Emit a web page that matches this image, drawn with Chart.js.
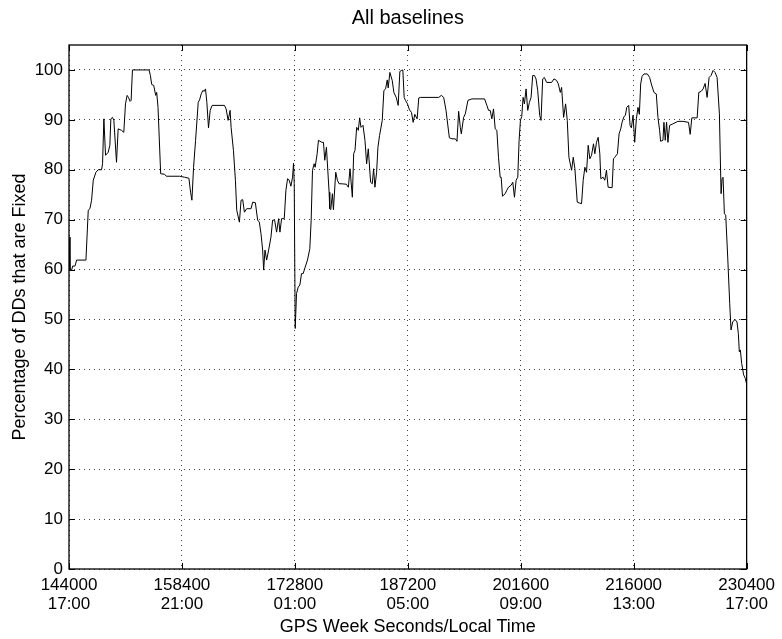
<!DOCTYPE html>
<html>
<head>
<meta charset="utf-8">
<title>All baselines</title>
<script src="https://cdn.jsdelivr.net/npm/chart.js@4/dist/chart.umd.min.js"></script>
<style>
    html, body { margin: 0; padding: 0; background: #fff; }
    #wrap { width: 782px; height: 639px; position: relative; }
</style>
</head>
<body>
<div id="wrap"><canvas id="dd-chart"></canvas></div>
<script>
// GPS week seconds of each sample
const gpsSec = [
    144000, 144127, 144339, 144466, 144762, 144975, 146160, 146456, 146668, 146880,
    147092, 147431, 147727, 148151, 148278, 148447, 148659, 148998, 149209, 149337,
    149548, 149718, 150057, 150268, 150692, 150988, 151200, 151412, 151581, 151793,
    151920, 152090, 154207, 154377, 154546, 154800, 155054, 155181, 155350, 155690,
    156198, 156410, 158104, 158739, 159289, 159501, 159671, 159883, 160137, 160476,
    160645, 160857, 161068, 161238, 161407, 161576, 161788, 162000, 162255, 163821,
    164034, 164287, 164542, 164669, 164965, 165219, 165388, 165727, 165939, 166150,
    166363, 166659, 167210, 167421, 167760, 168056, 168268, 168480, 168692, 168819,
    168989, 169200, 169454, 169751, 169962, 170216, 170471, 170725, 170894, 171106,
    171445, 171657, 171868, 172080, 172292, 172503, 172630, 172716, 172843, 173012,
    173224, 173436, 173647, 173859, 174113, 174409, 174706, 174876, 175045, 175257,
    175384, 175638, 175807, 176231, 176443, 176612, 176823, 177163, 177248, 177375,
    177586, 177713, 178010, 178221, 178433, 178687, 179365, 179619, 179831, 180128,
    180297, 180466, 180678, 180889, 181059, 181229, 181483, 181737, 181949, 182160,
    182457, 182668, 182838, 183007, 183219, 183389, 183600, 183939, 184151, 184363,
    184574, 184701, 184913, 185210, 185422, 185718, 185972, 186184, 186396, 186565,
    186735, 186904, 187158, 187413, 187667, 187878, 188090, 188386, 188597, 188810,
    191139, 191478, 191775, 192071, 192495, 192833, 193257, 193468, 193680, 193893,
    194019, 194316, 194528, 194866, 195374, 196984, 197280, 197492, 197704, 197916,
    198128, 198340, 198551, 198763, 198975, 199102, 199271, 199610, 199821, 200033,
    200372, 200584, 200796, 201008, 201219, 201389, 201559, 201727, 201897, 202066,
    202278, 202490, 202702, 202914, 203125, 203337, 203549, 203761, 204015, 204184,
    204396, 204608, 204904, 205539, 205836, 206174, 206386, 206640, 206810, 207064,
    207318, 207530, 207741, 208081, 208292, 208504, 208801, 209140, 209351, 209563,
    209775, 209986, 210198, 210410, 210622, 210876, 211046, 211257, 211469, 211681,
    211808, 212104, 212316, 212528, 212739, 213248, 213417, 213587, 213926, 214137,
    214349, 214518, 214772, 214942, 215111, 215365, 215535, 215704, 215916, 216128,
    216339, 216551, 216721, 216890, 217060, 217314, 217737, 218034, 218245, 218584,
    218880, 219092, 219304, 219431, 219728, 219855, 220024, 220193, 220363, 220575,
    220998, 221634, 222269, 222989, 223201, 223413, 224090, 224302, 224599, 224853,
    225107, 225361, 225615, 225869, 226123, 226377, 226632, 226928, 227140, 227267,
    227394, 227563, 227733, 227987, 228241, 228410, 228622, 228919, 229173, 229342,
    229469, 229596, 229766, 230020, 230232, 230400
];

// percentage of DDs fixed at each sample
const pctFixed = [
    66.5, 59.9, 59.9, 60.7, 60.7, 61.9, 61.9, 71.9, 72.2, 73.9,
    77.9, 79.5, 80.0, 80.0, 81.2, 90.2, 82.9, 83.5, 84.9, 90.2,
    90.5, 89.9, 81.5, 88.2, 87.9, 87.5, 93.2, 94.9, 94.5, 93.7,
    93.9, 100.0, 100.0, 98.9, 97.1, 96.9, 94.9, 95.5, 92.5, 79.2,
    79.1, 78.7, 78.7, 78.5, 78.3, 75.5, 73.9, 80.5, 85.9, 93.5,
    94.0, 95.2, 95.9, 95.7, 96.2, 93.5, 88.4, 91.9, 92.9, 92.9,
    92.2, 89.9, 91.9, 88.5, 83.9, 77.9, 71.9, 69.5, 73.9, 74.0,
    71.5, 72.2, 72.2, 73.5, 73.4, 69.9, 69.5, 67.2, 63.9, 59.9,
    63.9, 61.9, 63.9, 66.5, 69.9, 69.9, 67.5, 70.2, 67.5, 70.2,
    70.2, 75.9, 78.2, 77.9, 76.7, 78.5, 81.3, 77.2, 48.2, 55.2,
    56.5, 56.9, 59.2, 59.2, 60.5, 61.9, 64.2, 69.9, 79.9, 81.2,
    80.5, 83.2, 85.9, 85.5, 85.5, 81.9, 84.5, 75.5, 72.2, 72.0,
    75.2, 72.0, 79.5, 77.9, 77.2, 77.2, 77.1, 76.5, 80.2, 74.5,
    83.2, 83.9, 88.5, 87.9, 90.4, 88.5, 88.9, 85.9, 81.2, 84.2,
    77.5, 77.2, 80.2, 76.5, 79.5, 84.5, 86.9, 89.9, 95.9, 96.2,
    98.0, 96.4, 99.5, 97.9, 95.5, 94.5, 92.9, 99.7, 99.9, 100.0,
    94.5, 93.9, 93.2, 92.0, 91.5, 89.5, 91.1, 90.2, 94.4, 94.5,
    94.5, 94.9, 94.5, 91.9, 86.4, 86.2, 86.2, 85.7, 91.7, 88.5,
    87.2, 90.5, 91.2, 93.9, 94.2, 94.2, 92.9, 91.9, 91.9, 90.2,
    92.2, 88.2, 87.9, 82.5, 78.5, 78.5, 74.7, 75.2, 75.9, 76.5,
    76.9, 77.5, 74.5, 77.9, 78.5, 85.9, 89.9, 90.7, 94.5, 93.2,
    96.2, 91.9, 93.5, 94.5, 98.9, 98.9, 98.2, 95.9, 90.9, 89.9,
    98.2, 98.5, 97.5, 97.5, 98.2, 97.9, 97.2, 95.5, 96.5, 90.5,
    93.2, 89.9, 82.5, 79.9, 82.5, 80.2, 73.5, 73.3, 73.2, 77.9,
    80.5, 79.5, 84.9, 82.2, 82.9, 85.2, 83.2, 85.5, 86.5, 83.2,
    78.2, 78.5, 77.9, 79.9, 76.5, 76.4, 82.2, 82.5, 83.2, 87.2,
    88.2, 89.5, 90.7, 90.9, 92.5, 92.9, 88.9, 88.4, 90.9, 85.5,
    90.2, 92.5, 91.1, 97.2, 98.7, 99.2, 99.2, 98.5, 97.2, 95.5,
    95.2, 90.5, 87.9, 85.7, 85.9, 89.5, 85.9, 89.5, 85.5, 88.9,
    89.2, 89.7, 89.7, 89.5, 87.1, 90.4, 90.4, 95.5, 95.7, 96.2,
    97.3, 94.5, 98.5, 98.9, 99.9, 99.5, 98.5, 91.2, 75.2, 78.2,
    78.5, 71.2, 70.9, 62.5, 53.2, 47.9, 49.5, 50.0, 49.5, 47.2,
    43.5, 43.9, 41.2, 38.9, 38.2, 37.0
];

// axis ticks
const xTickValues = [144000, 158400, 172800, 187200, 201600, 216000, 230400];
const xTickTimes = ['17:00', '21:00', '01:00', '05:00', '09:00', '13:00', '17:00'];
const yTickValues = [0, 10, 20, 30, 40, 50, 60, 70, 80, 90, 100];

const FONT = '"Liberation Sans", Arial, Helvetica, sans-serif';
const TICK_LEN = 6;

// matlab style box with inward tick marks on all four sides,
// and the title centred over the axes instead of the whole canvas
const boxPlugin = {
    id: 'matlabBox',
    afterLayout(chart) {
        const t = chart.titleBlock;
        if (t) {
            t.left = chart.chartArea.left;
            t.right = chart.chartArea.right;
            t.width = t.right - t.left;
        }
    },
    afterDatasetsDraw(chart) {
        const ctx = chart.ctx;
        const a = chart.chartArea;
        const xs = chart.scales.x;
        const ys = chart.scales.y;
        ctx.save();
        ctx.strokeStyle = '#000';
        ctx.lineWidth = 1;
        ctx.setLineDash([]);
        ctx.beginPath();
        xTickValues.forEach(v => {
            const px = Math.round(xs.getPixelForValue(v)) + 0.5;
            ctx.moveTo(px, a.bottom);
            ctx.lineTo(px, a.bottom - TICK_LEN);
            ctx.moveTo(px, a.top);
            ctx.lineTo(px, a.top + TICK_LEN);
        });
        yTickValues.forEach(v => {
            const py = Math.round(ys.getPixelForValue(v)) + 0.5;
            ctx.moveTo(a.left, py);
            ctx.lineTo(a.left + TICK_LEN, py);
            ctx.moveTo(a.right, py);
            ctx.lineTo(a.right - TICK_LEN, py);
        });
        ctx.stroke();
        ctx.lineWidth = 1.3;
        ctx.strokeRect(a.left, a.top, a.right - a.left, a.bottom - a.top);
        ctx.restore();
    }
};

const points = gpsSec.map((t, i) => ({ x: t, y: pctFixed[i] }));

const ctx = document.getElementById('dd-chart').getContext('2d');
new Chart(ctx, {
    type: 'line',
    data: {
        datasets: [{
            label: 'All baselines',
            data: points,
            borderColor: '#000',
            borderWidth: 1,
            pointRadius: 0,
            tension: 0,
            fill: false
        }]
    },
    options: {
        responsive: true,
        maintainAspectRatio: false,
        animation: false,
        layout: { padding: { left: 0, right: 33, top: 0, bottom: 0 } },
        plugins: {
            legend: { display: false },
            tooltip: { enabled: false },
            title: {
                display: true,
                text: 'All baselines',
                color: '#000',
                font: { family: FONT, size: 20, weight: 'normal' },
                padding: { top: 6, bottom: 15 }
            }
        },
        scales: {
            x: {
                type: 'linear',
                min: 144000,
                max: 230400,
                afterFit: scale => { scale.height = 70; },
                afterBuildTicks: scale => {
                    scale.ticks = xTickValues.map(v => ({ value: v }));
                },
                ticks: {
                    color: '#000',
                    padding: 7,
                    maxRotation: 0,
                    autoSkip: false,
                    font: { family: FONT, size: 17, lineHeight: 1.1 },
                    callback: (value) => {
                        const i = xTickValues.indexOf(value);
                        return [String(value), i >= 0 ? xTickTimes[i] : ''];
                    }
                },
                grid: { color: '#444', lineWidth: 1, drawTicks: false },
                border: { display: false, dash: [1, 4] },
                title: {
                    display: true,
                    text: 'GPS Week Seconds/Local Time',
                    color: '#000',
                    font: { family: FONT, size: 18 },
                    padding: { top: 0, bottom: 1 }
                }
            },
            y: {
                min: 0,
                max: 105,
                afterFit: scale => { scale.width = 69; },
                afterBuildTicks: scale => {
                    scale.ticks = yTickValues.map(v => ({ value: v }));
                },
                ticks: {
                    color: '#000',
                    padding: 6,
                    font: { family: FONT, size: 17 }
                },
                grid: { color: '#444', lineWidth: 1, drawTicks: false },
                border: { display: false, dash: [1, 4] },
                title: {
                    display: true,
                    text: 'Percentage of DDs that are Fixed',
                    color: '#000',
                    font: { family: FONT, size: 18 },
                    padding: { top: 9, bottom: 0 }
                }
            }
        }
    },
    plugins: [boxPlugin]
});
</script>
</body>
</html>
